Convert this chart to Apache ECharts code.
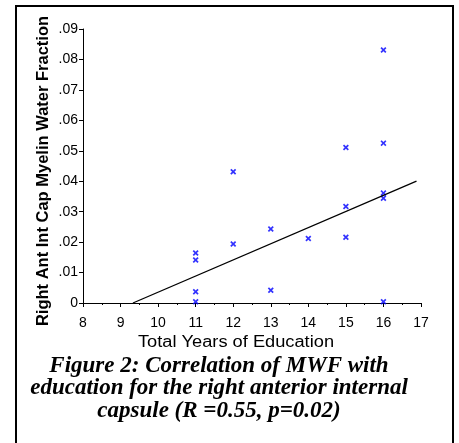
<!DOCTYPE html>
<html>
<head>
<meta charset="utf-8">
<script src="https://cdn.jsdelivr.net/npm/echarts@6/dist/echarts.min.js"></script>
<style>
html,body{margin:0;padding:0;background:#fff;}
#chart{width:459px;height:443px;}
</style>
</head>
<body>
<div id="chart"></div>
<script>
// Data
var years = [11, 11, 11, 11, 12, 12, 13, 13, 14, 15, 15, 15, 16, 16, 16, 16, 16];
var mwf = [0.0164, 0.0141, 0.0037, 0.0004, 0.0194, 0.0431, 0.0243, 0.0042, 0.0212, 0.0216, 0.0317, 0.0511, 0.0831, 0.0525, 0.0361, 0.0344, 0.0004];
var fitX = [9.33, 16.88];
var fitY = [0.0, 0.0400];
var xTicks = [8, 9, 10, 11, 12, 13, 14, 15, 16, 17];
var yTicks = [0, 0.01, 0.02, 0.03, 0.04, 0.05, 0.06, 0.07, 0.08, 0.09];
var xTitle = 'Total Years of Education';
var yTitle = 'Right Ant Int Cap Myelin Water Fraction';
var caption = ['Figure 2: Correlation of MWF with', 'education for the right anterior internal', 'capsule (R =0.55, p=0.02)'];

var points = years.map(function (x, i) { return [x, mwf[i]]; });
var fit = fitX.map(function (x, i) { return [x, fitY[i]]; });

var crossPath = 'path://M0,2 L2,0 L5,3 L8,0 L10,2 L7,5 L10,8 L8,10 L5,7 L2,10 L0,8 L3,5 Z';

var chart = echarts.init(document.getElementById('chart'), null, {renderer: 'canvas'});
chart.setOption({
  animation: false,
  backgroundColor: '#fff',
  grid: {left: 83, right: 38, top: 29, bottom: 140, containLabel: false},
  xAxis: {
    type: 'value',
    min: xTicks[0], max: xTicks[xTicks.length - 1], interval: 1,
    axisLine: {show: true, onZero: false, lineStyle: {color: '#000', width: 1}},
    axisTick: {show: true, length: 4, lineStyle: {color: '#000'}},
    minorTick: {show: true, splitNumber: 2, length: 2, lineStyle: {color: '#000'}},
    axisLabel: {fontFamily: 'Liberation Sans, Arial', fontSize: 14, color: '#000', margin: 13},
    splitLine: {show: false}
  },
  yAxis: {
    type: 'value',
    min: yTicks[0], max: yTicks[yTicks.length - 1], interval: 0.01,
    name: yTitle,
    nameLocation: 'middle',
    nameGap: 31,
    nameMoveOverlap: false,
    nameRotate: 90,
    nameTextStyle: {fontFamily: 'Liberation Sans, Arial', fontSize: 16.5, fontWeight: 'bold', color: '#000', padding: [0, 10, 0, 0]},
    axisLine: {show: true, onZero: false, lineStyle: {color: '#000', width: 1}},
    axisTick: {show: true, length: 4, lineStyle: {color: '#000'}},
    axisLabel: {
      fontFamily: 'Liberation Sans, Arial', fontSize: 14, color: '#000', margin: 5,
      formatter: function (v) {
        if (Math.abs(v) < 1e-9) return '0';
        return '.' + Math.round(v * 100).toString().padStart(2, '0');
      }
    },
    splitLine: {show: false}
  },
  title: caption.map(function (t, i) {
    return {
      text: t,
      left: 219,
      textAlign: 'center',
      top: 354.5 + i * 22.5,
      padding: 0,
      textStyle: {fontFamily: 'Liberation Serif, Times New Roman', fontSize: 23, fontWeight: 'bold', fontStyle: 'italic', color: '#000'}
    };
  }),
  graphic: [{
    type: 'rect',
    shape: {x: 16, y: 6, width: 437, height: 460},
    style: {fill: 'none', stroke: '#000', lineWidth: 2},
    silent: true
  }, {
    type: 'text',
    x: 236,
    y: 343,
    scaleX: 1.14,
    style: {
      text: xTitle,
      fontFamily: 'Liberation Sans, Arial',
      fontSize: 16,
      fill: '#000',
      textAlign: 'center',
      textVerticalAlign: 'middle'
    },
    silent: true
  }],
  series: [{
    type: 'scatter',
    data: points,
    symbol: crossPath,
    symbolSize: 6,
    itemStyle: {color: '#0000ff'}
  }, {
    type: 'line',
    data: fit,
    showSymbol: false,
    symbol: 'none',
    lineStyle: {color: '#000', width: 1.3}
  }]
});
</script>
</body>
</html>
